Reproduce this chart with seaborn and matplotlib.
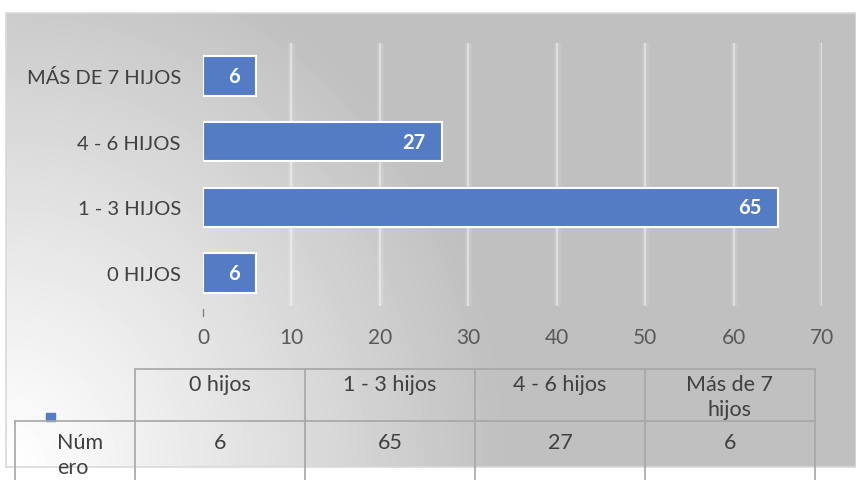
import numpy as np
import pandas as pd
import matplotlib
matplotlib.use('Agg')
from matplotlib import pyplot as plt
from matplotlib.patches import Rectangle
import seaborn as sns

# Data
axis_labels = ['0 HIJOS', '1 - 3 HIJOS', '4 - 6 HIJOS', 'MÁS DE 7 HIJOS']
table_headers = ['0 hijos', '1 - 3 hijos', '4 - 6 hijos', 'Más de 7\nhijos']
values = [6, 65, 27, 6]
series_name = 'Núm\nero'
x_ticks = [0, 10, 20, 30, 40, 50, 60, 70]

bar_color = '#547CC4'
text_color = '#404040'
tick_color = '#595959'
line_color = '#A6A6A6'

sns.set_theme(style='white')
plt.rcParams['font.family'] = ['Lato', 'DejaVu Sans']

W, H = 856, 481
fig = plt.figure(figsize=(W / 100, H / 100), dpi=100)
fig.patch.set_facecolor('white')

# Background panel with radial gradient (white at bottom-left, grey elsewhere)
px0, py0, px1, py1 = 6, 14, 856, 468
bg = fig.add_axes([px0 / W, 1 - py1 / H, (px1 - px0) / W, (py1 - py0) / H], zorder=0)
gh, gw = py1 - py0, px1 - px0
yy, xx = np.mgrid[0:gh, 0:gw]
dist = np.sqrt((xx / 500.0) ** 2 + ((gh - yy) / 540.0) ** 2)
t = np.clip(dist, 0, 1) ** 1.1
grey = 192 / 255
img = 1 - t * (1 - grey)
bg.imshow(img, cmap='gray', vmin=0, vmax=1, aspect='auto', origin='upper',
          extent=(0, gw, gh, 0), interpolation='bilinear')
bg.set_xlim(0, gw)
bg.set_ylim(gh, 0)
bg.set_xticks([])
bg.set_yticks([])
for s in bg.spines.values():
    s.set_color('#D9D9D9')
    s.set_linewidth(1.2)

# Main bar chart
ax_left, ax_right, ax_top, ax_bottom = 203, 822, 44, 307
ax = fig.add_axes([ax_left / W, 1 - ax_bottom / H, (ax_right - ax_left) / W,
                   (ax_bottom - ax_top) / H], zorder=2)
ax.set_facecolor('none')

df = pd.DataFrame({'label': axis_labels, 'value': values})
order = axis_labels[::-1]

for xt in x_ticks[1:]:
    ax.axvline(xt, color='white', lw=5, alpha=0.10, zorder=0)
    ax.axvline(xt, color='white', lw=1.6, alpha=0.45, zorder=0)

sns.barplot(data=df, y='label', x='value', order=order, orient='h',
            color=bar_color, width=0.6, edgecolor='white', linewidth=1.5,
            saturation=1, ax=ax, zorder=2)

for i, lab in enumerate(order):
    v = df.loc[df['label'] == lab, 'value'].iloc[0]
    ax.annotate(str(v), xy=(v, i), xytext=(-16, 0), textcoords='offset pixels',
                ha='right', va='center', color='white', fontsize=14.5,
                fontweight='bold', zorder=3)

ax.set_xlim(0, 70)
ax.set_ylim(len(order) - 0.5, -0.5)
ax.set_xticks(x_ticks)
ax.set_xlabel('')
ax.set_ylabel('')
ax.tick_params(axis='y', length=0, pad=16, labelsize=14.5, labelcolor=text_color)
ax.tick_params(axis='x', length=0, pad=15, labelsize=15, labelcolor=tick_color)
sns.despine(ax=ax, left=True, bottom=True)
ax.plot([0, 0], [3.55, 3.65], color='#7F7F7F', lw=1, clip_on=False)

# Data table below the chart, drawn in pixel coordinates
ov = fig.add_axes([0, 0, 1, 1], zorder=3)
ov.set_xlim(0, W)
ov.set_ylim(H, 0)
ov.axis('off')
ov.patch.set_alpha(0)

cols = [135, 305, 475, 645, 815]
row_top, row_mid, row_bot = 370, 422, 490
ov.plot([cols[0], cols[-1]], [row_top, row_top], color=line_color, lw=1.2)
ov.plot([15, cols[-1]], [row_mid, row_mid], color=line_color, lw=1.2)
for c in cols:
    ov.plot([c, c], [row_top, row_bot], color=line_color, lw=1.2)
ov.plot([15, 15], [row_mid, row_bot], color=line_color, lw=1.2)

for i, (hdr, v) in enumerate(zip(table_headers, values)):
    cx = (cols[i] + cols[i + 1]) / 2
    ov.text(cx, 375, hdr, ha='center', va='top', fontsize=15.5, color=text_color,
            linespacing=1.3)
    ov.text(cx, 443, str(v), ha='center', va='center', fontsize=15.5, color=text_color)

ov.add_patch(Rectangle((46, 414), 9, 8, color=bar_color))
ov.text(57, 433, series_name, ha='left', va='top', fontsize=15.5, color=text_color,
        linespacing=1.3)

fig.savefig('out.png', dpi=100)
